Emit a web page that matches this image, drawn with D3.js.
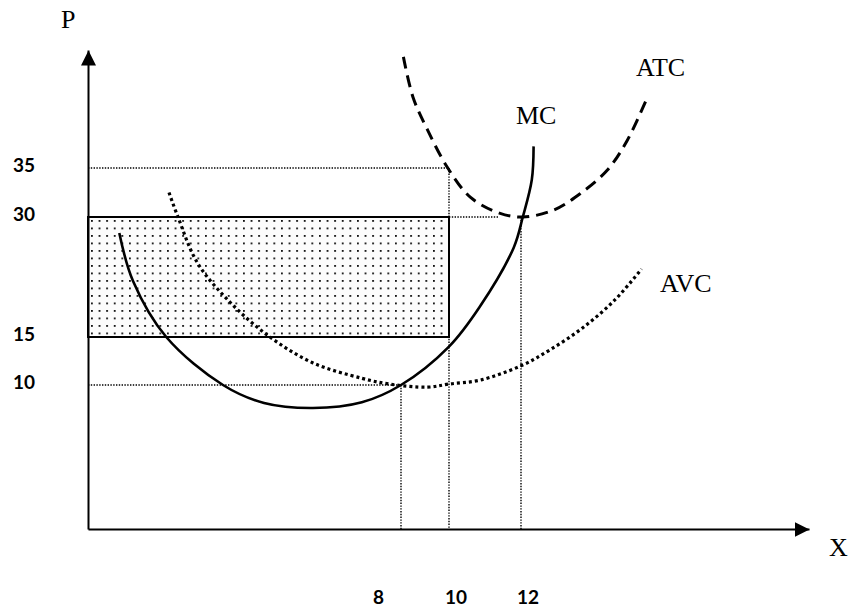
<!DOCTYPE html>
<html>
<head>
<meta charset="utf-8">
<script src="https://cdn.jsdelivr.net/npm/d3@7"></script>
<style>
  body { margin: 0; background: #fff; }
  svg { display: block; }
</style>
</head>
<body>
<div id="grafico"></div>
<script>
const width = 856
const height = 609

// breakpoints of the (hand drawn, uneven) axes
const qBreaks = [0, 8, 10, 12, 20]
const pBreaks = [0, 10, 15, 30, 35, 47]

const qtyTicks = [8, 10, 12]
const priceTicks = [10, 15, 30, 35]

// curves (quantity, price)
const mcQ = [0.8, 1.15, 2, 3.45, 4.5, 5.75, 7, 8, 10, 10.85, 11.8, 12.05, 12.3, 12.35]
const mcP = [28, 22, 15, 10, 8.75, 8.4, 8.8, 10, 14, 18.75, 26.2, 30, 33.8, 37.2]

const atcQ = [8.1, 8.5, 9.1, 9.95, 10.6, 11.4, 12.05, 12.9, 13.65, 14.4, 14.95, 15.5]
const atcP = [46.3, 42.2, 38.9, 35, 32, 30.4, 30, 30.7, 32.4, 34.8, 37.8, 42.1]

const avcQ = [2.07, 2.3, 2.8, 3.65, 4.65, 5.75, 7, 7.7, 9.1, 10, 10.85, 12, 12.8, 13.7, 14.6, 15.35]
const avcP = [32.5, 30, 24.25, 19.25, 15, 12.3, 10.7, 10.1, 9.85, 10.1, 10.5, 12, 13.65, 16.1, 19.6, 23.5]

// shaded box
const boxQ = [0, 10]
const boxP = [15, 30]

// dotted guide lines [q1, p1, q2, p2]
const guides = [
  [0, 35, 10, 35],
  [10, 35, 10, 0],
  [10, 30, 11.4, 30],
  [0, 10, 8, 10],
  [8, 10, 8, 0],
  [12, 30, 12, 0]
]

const x = d3.scaleLinear().domain(qBreaks).range([88, 401, 449, 521, 809])
const y = d3.scaleLinear().domain(pBreaks).range([529, 385, 337, 217, 168, 50])

const svg = d3.select('#grafico').append('svg')
              .attr('width', width)
              .attr('height', height)

const defs = svg.append('defs')
defs.append('marker')
    .attr('id', 'seta')
    .attr('viewBox', '0 0 10 10')
    .attr('refX', 10)
    .attr('refY', 5)
    .attr('markerUnits', 'userSpaceOnUse')
    .attr('markerWidth', 15)
    .attr('markerHeight', 15)
    .attr('orient', 'auto')
  .append('path')
    .attr('d', 'M0,0L10,5L0,10Z')
    .attr('fill', '#000')

const pat = defs.append('pattern')
    .attr('id', 'pontos')
    .attr('patternUnits', 'userSpaceOnUse')
    .attr('x', 91)
    .attr('y', 220)
    .attr('width', 7.6)
    .attr('height', 7.5)
pat.append('rect').attr('width', 7.6).attr('height', 7.5).attr('fill', '#fcfcfc')
pat.append('rect').attr('x', 0).attr('y', 0).attr('width', 1.8).attr('height', 1.8).attr('fill', '#111')

// guides
svg.append('g').selectAll('line')
   .data(guides)
   .enter()
   .append('line')
   .attr('x1', d => x(d[0]))
   .attr('y1', d => y(d[1]))
   .attr('x2', d => x(d[2]))
   .attr('y2', d => y(d[3]))
   .attr('stroke', '#000')
   .attr('stroke-width', 1.4)
   .attr('stroke-dasharray', '1.4,1.4')

// box
svg.append('rect')
   .attr('x', x(boxQ[0]))
   .attr('y', y(boxP[1]))
   .attr('width', x(boxQ[1]) - x(boxQ[0]))
   .attr('height', y(boxP[0]) - y(boxP[1]))
   .attr('fill', 'url(#pontos)')
   .attr('stroke', '#000')
   .attr('stroke-width', 2)

const line = d3.line()
               .x(d => x(d[0]))
               .y(d => y(d[1]))
               .curve(d3.curveCatmullRom.alpha(0.5))

const curves = [
  {q: avcQ, p: avcP, w: 3.2, dash: '3,3'},
  {q: atcQ, p: atcP, w: 3, dash: '12,7'},
  {q: mcQ, p: mcP, w: 2.6, dash: null}
]

svg.append('g').selectAll('path')
   .data(curves)
   .enter()
   .append('path')
   .attr('d', d => line(d.q.map((v, i) => [v, d.p[i]])))
   .attr('fill', 'none')
   .attr('stroke', '#000')
   .attr('stroke-width', d => d.w)
   .attr('stroke-dasharray', d => d.dash)

// axes
const eixoX = svg.append('g')
   .attr('transform', `translate(0, ${y(0)})`)
   .call(d3.axisBottom(x).tickValues(qtyTicks).tickSize(0).tickSizeOuter(0).tickPadding(61.5))
const eixoY = svg.append('g')
   .attr('transform', `translate(${x(0)}, 0)`)
   .call(d3.axisLeft(y).tickValues(priceTicks).tickSize(0).tickSizeOuter(0).tickPadding(54))

svg.selectAll('.domain')
   .attr('stroke-width', 2)
   .attr('marker-end', 'url(#seta)')

svg.selectAll('.tick text')
   .attr('font-family', 'Lato, sans-serif')
   .attr('font-weight', 'bold')
   .attr('font-size', 19)
   .attr('fill', '#000')

eixoY.selectAll('.tick text').attr('dy', '0.2em').attr('x', -75).attr('text-anchor', 'start')
const shiftX = {8: -23, 10: 6.5, 12: 6.5}
eixoX.selectAll('.tick text').attr('dx', d => shiftX[d])

// labels
const labels = [
  ['P', 61, 28],
  ['X', 829, 556],
  ['ATC', 636, 76],
  ['MC', 516, 124],
  ['AVC', 660, 292]
]
svg.append('g').selectAll('text')
   .data(labels)
   .enter()
   .append('text')
   .attr('x', d => d[1])
   .attr('y', d => d[2])
   .attr('font-family', '"Liberation Serif", serif')
   .attr('font-size', 26)
   .attr('fill', '#000')
   .text(d => d[0])
</script>
</body>
</html>
